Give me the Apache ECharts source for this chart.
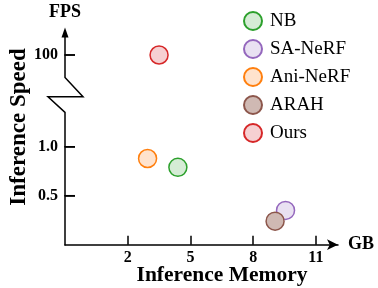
<!DOCTYPE html>
<html><head><meta charset="utf-8">
<script src="https://cdn.jsdelivr.net/npm/echarts@6/dist/echarts.min.js"></script>
<style>html,body{margin:0;padding:0;background:#fff}#c{width:378px;height:288px}</style>
</head><body><div id="c"></div>
<script>
const methods = ['NB', 'SA-NeRF', 'Ani-NeRF', 'ARAH', 'Ours'];
const memoryGB = [4.4, 9.55, 2.95, 9.05, 3.5];
const fps = [0.79, 0.35, 0.88, 0.24, 100];
const xTicks = [2, 5, 8, 11];
const yTicks = [0.5, 1.0, 100];
const yTickLabels = ['0.5', '1.0', '100'];
const borderColors = ['#2ca02c', '#9467bd', '#ff7f0e', '#8c564b', '#d62728'];
const fillColors = ['#d5ecd5', '#e9e1f2', '#ffe3cd', '#cfb9b3', '#f6d0d2'];

const FONT = "'Liberation Serif', 'Times New Roman', serif";
const chart = echarts.init(document.getElementById('c'), null, {renderer: 'canvas'});

const series = methods.map((m, i) => ({
  name: m,
  type: 'scatter',
  symbol: 'circle',
  symbolSize: 18,
  itemStyle: {color: fillColors[i], borderColor: borderColors[i], borderWidth: 1.5, opacity: 1},
  data: [[memoryGB[i], fps[i]]]
}));

chart.setOption({
  animation: false,
  backgroundColor: '#fff',
  grid: {left: 65, right: 40, top: 30.5, bottom: 43.3, containLabel: false, outerBoundsMode: 'none'},
  legend: {
    orient: 'vertical', left: 238, top: 6,
    itemWidth: 18, itemHeight: 18, itemGap: 8, icon: 'circle',
    data: methods,
    textStyle: {fontFamily: FONT, fontSize: 19, color: '#000', padding: [0, 0, 0, 3]}
  },
  xAxis: {
    type: 'value', min: -1, max: 12.06,
    name: 'GB', nameLocation: 'end', nameGap: 10,
    nameTextStyle: {fontFamily: FONT, fontSize: 18, fontWeight: 'bold', color: '#000', verticalAlign: 'middle'},
    axisLine: {show: true, onZero: false, symbol: ['none', 'arrow'], symbolSize: [8, 11], lineStyle: {color: '#000', width: 1.5}},
    axisTick: {show: true, inside: true, length: 9, customValues: xTicks, lineStyle: {color: '#000', width: 1.5}},
    axisLabel: {customValues: xTicks, margin: 5, fontFamily: FONT, fontSize: 16, fontWeight: 'bold', color: '#000'},
    splitLine: {show: false}
  },
  yAxis: {
    type: 'value', min: 0, max: 100.25,
    breaks: [{start: 1.35, end: 99.77, gap: '16.3%'}],
    breakArea: {show: false},
    name: 'FPS', nameLocation: 'end', nameGap: 9,
    nameTextStyle: {fontFamily: FONT, fontSize: 18, fontWeight: 'bold', color: '#000'},
    axisLine: {show: true, onZero: false, lineStyle: {color: 'rgba(0,0,0,0)', width: 1.5}},
    axisTick: {show: true, inside: true, length: 10, customValues: yTicks, lineStyle: {color: '#000', width: 1.5}},
    axisLabel: {customValues: yTicks, margin: 7, fontFamily: FONT, fontSize: 16, fontWeight: 'bold', color: '#000',
      formatter: v => { const k = yTicks.indexOf(v); return k >= 0 ? yTickLabels[k] : ''; }},
    splitLine: {show: false}
  },
  series: series
});

const x0 = chart.convertToPixel({xAxisIndex: 0}, -1);
const yTop = chart.convertToPixel({yAxisIndex: 0}, 100.25);
const yBT = chart.convertToPixel({yAxisIndex: 0}, 99.77);
const yBB = chart.convertToPixel({yAxisIndex: 0}, 1.35);
const y0 = chart.convertToPixel({yAxisIndex: 0}, 0);
const midY = yBT + (yBB - yBT) * 0.55;
const tickRects = yTicks.map(v => {
  const py = Number(chart.convertToPixel({yAxisIndex: 0}, v));
  return {type: 'rect', zlevel: 10, z: 100, silent: true,
    shape: {x: x0 - 0.75, y: py - 0.75, width: 10.75, height: 1.5}, style: {fill: '#000', stroke: null}};
});

chart.setOption({
  graphic: [
    {type: 'polygon', zlevel: 10, z: 100, shape: {points: [[x0, yTop - 3], [x0 - 3.5, yTop + 7], [x0 + 3.5, yTop + 7]]}, style: {fill: '#000'}},
    {type: 'polyline', zlevel: 10, z: 100, shape: {points: [[x0, yTop + 5], [x0, yBT], [x0 + 18, midY], [x0 - 17, midY], [x0, yBB], [x0, y0 + 0.75]]},
      style: {stroke: '#000', lineWidth: 1.5, fill: null}},
    {type: 'text', x: 19.5, y: 127, rotation: Math.PI / 2,
      style: {text: 'Inference Speed', font: 'bold 23px ' + FONT, fill: '#000', align: 'center', verticalAlign: 'middle'}},
    {type: 'text', x: 222, y: 275,
      style: {text: 'Inference Memory', font: 'bold 21.5px ' + FONT, fill: '#000', align: 'center', verticalAlign: 'middle'}}
  ].concat(tickRects)
});
</script></body></html>
